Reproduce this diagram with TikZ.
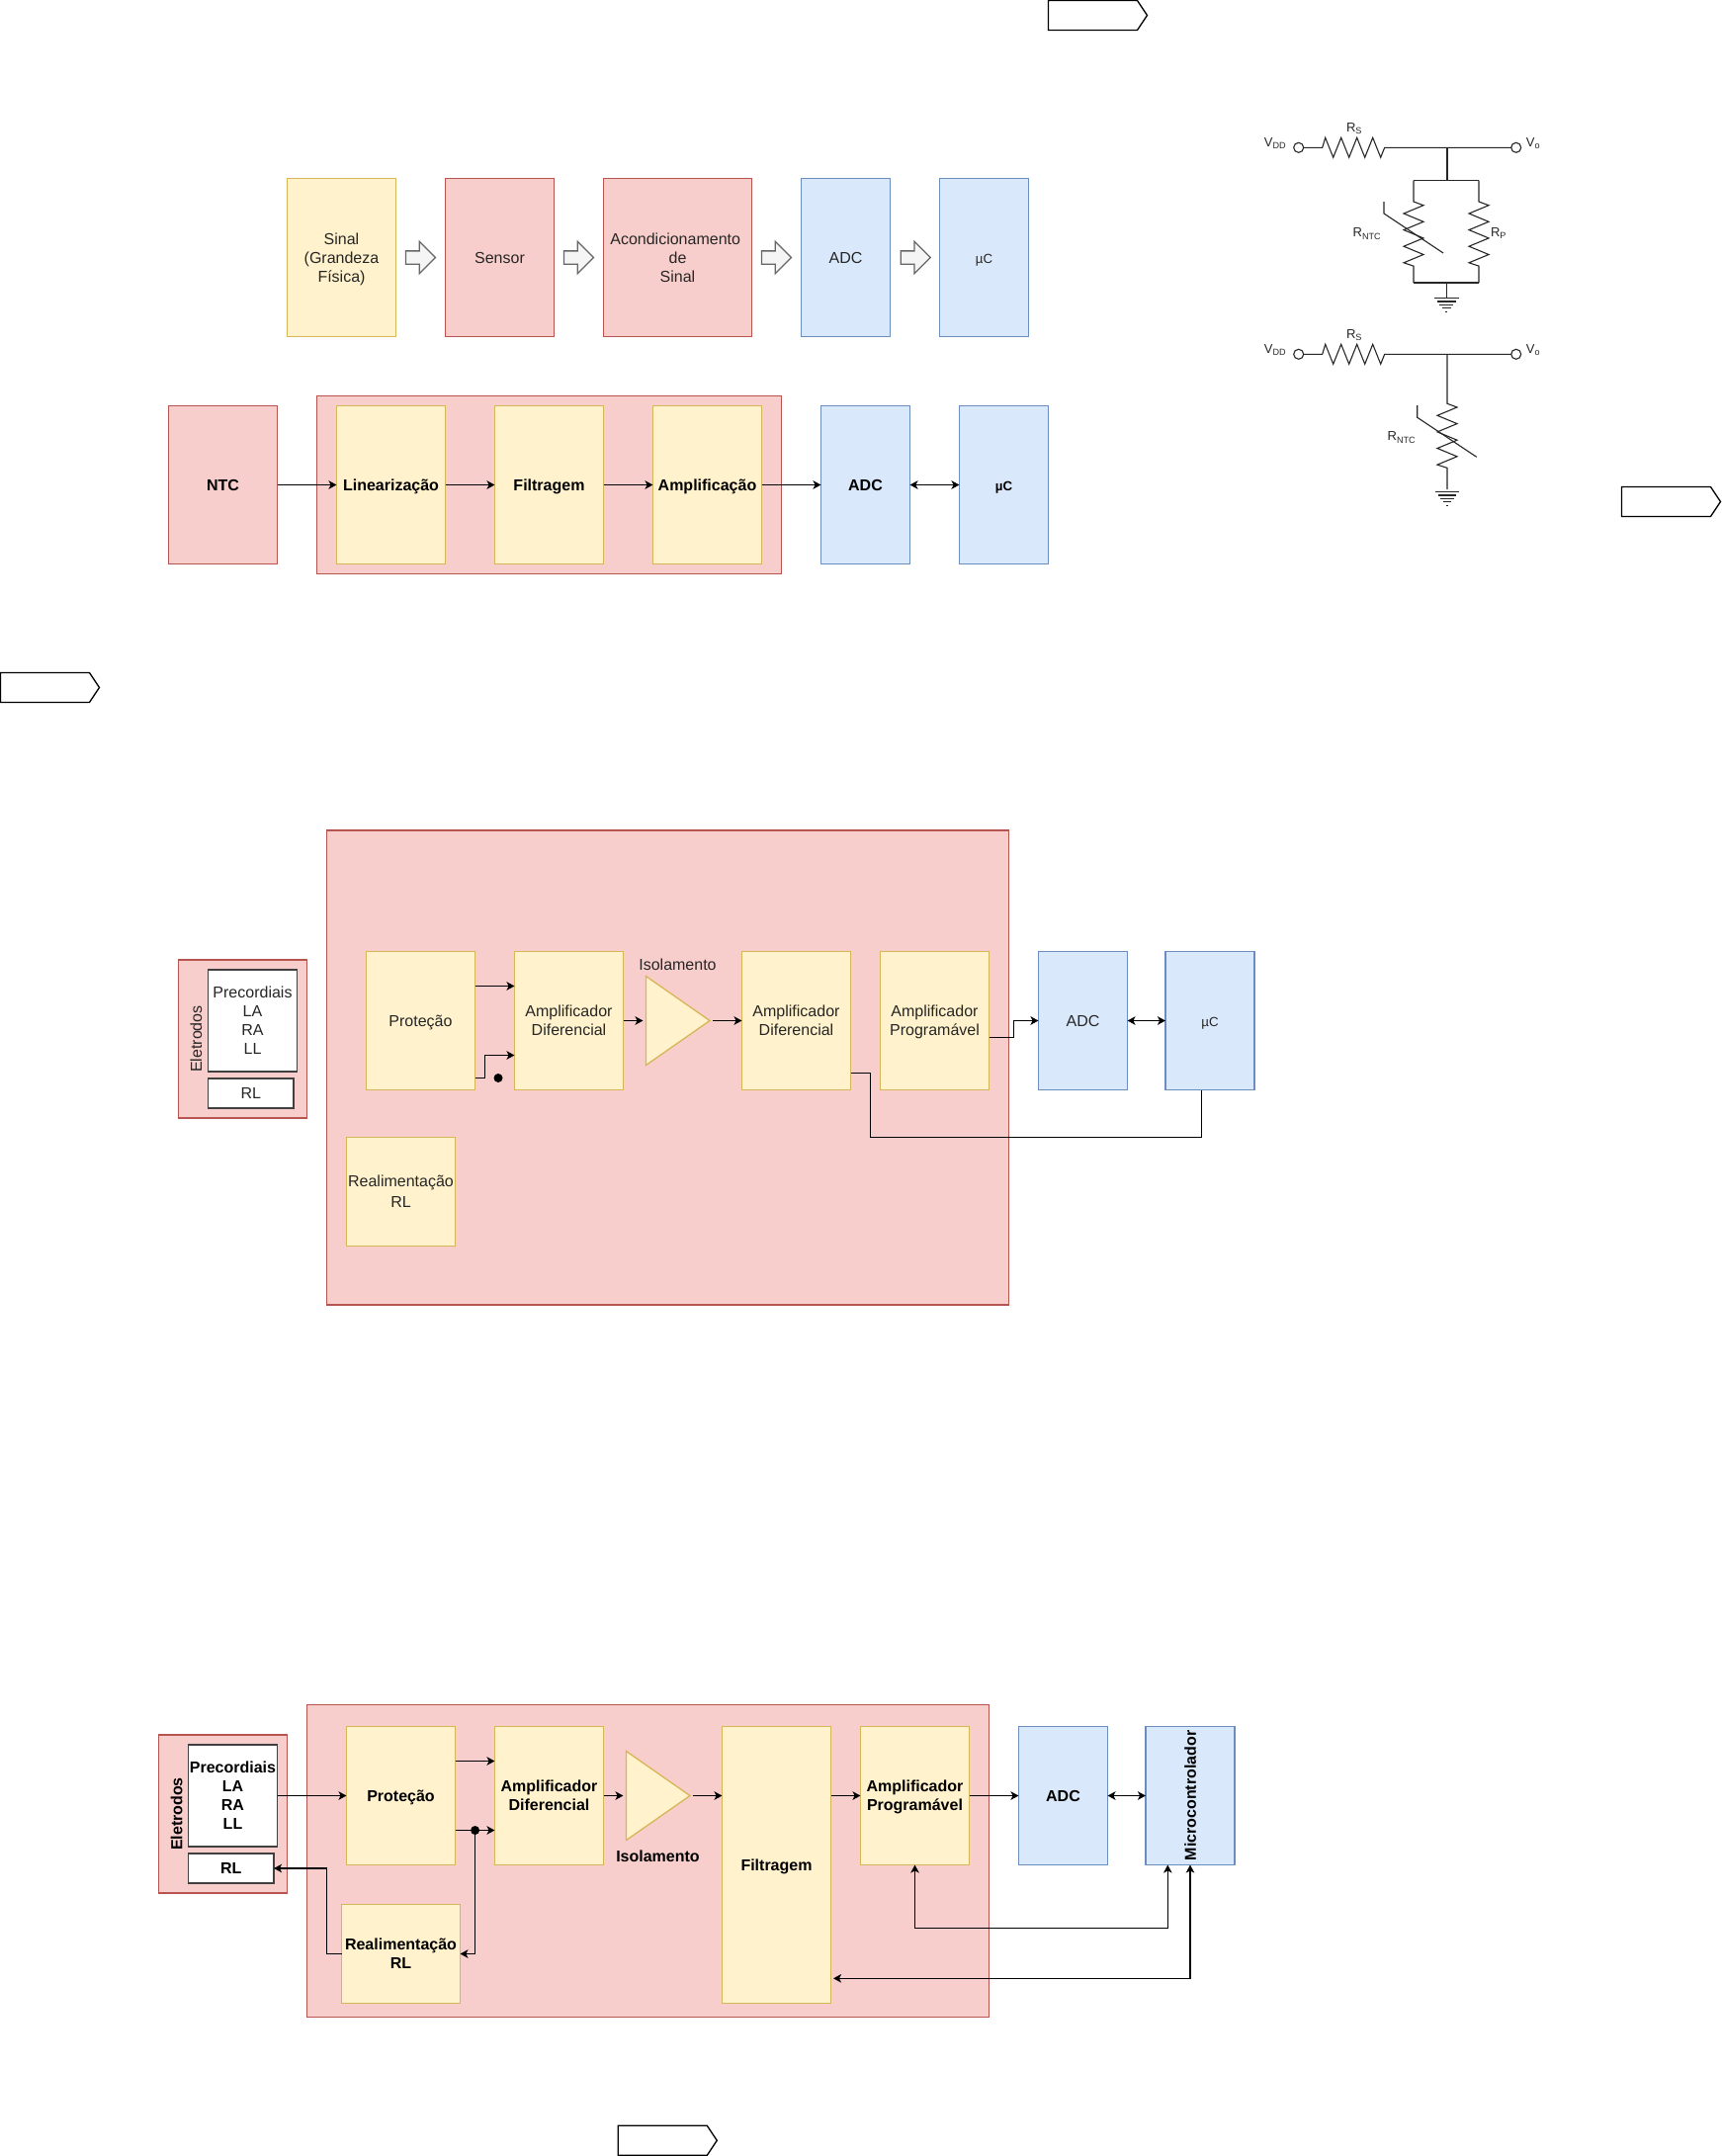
\documentclass[tikz,border=0pt]{standalone}
\usepackage{fontspec}
\setmainfont{Liberation Sans}
\usetikzlibrary{positioning,arrows.meta,shapes.geometric,shapes.arrows,shapes.symbols}
\newcommand{\topstrut}{\rule{0pt}{15pt}}

\begin{document}
\begin{tikzpicture}[
x=1pt, y=-1pt, node distance=50pt, line width=1.3pt,
>={Stealth[length=8pt,width=8.5pt,inset=2pt]},
every node/.style={inner sep=0pt, outer sep=0pt, align=center, text=black!85, font=\fontsize{16}{19}\selectfont},
textstrut/.style={execute at begin node={\rule[-3.6pt]{0pt}{19pt}}, execute at end node={\rule[-3.6pt]{0pt}{19pt}}},
boldtext/.style={textstrut, text=black, font=\fontsize{16}{19}\selectfont\bfseries},
smalltext/.style={font=\fontsize{13.3}{16}\selectfont},
blockbox/.style={rectangle, draw, textstrut, minimum width=110pt, minimum height=160pt},
ecgbox/.style={blockbox, minimum height=140pt},
yellowbox/.style={fill=yellowfill, draw=yellowline},
redbox/.style={rectangle, draw=redline, fill=redfill},
bluebox/.style={fill=bluefill, draw=blueline},
whitebox/.style={rectangle, textstrut, draw=black!75, fill=white},
isotri/.style={isosceles triangle, isosceles triangle stretches, fill=yellowfill, draw=yellowline, minimum width=90pt, minimum height=64.5pt},
flowarrow/.style={single arrow, draw=black!60, fill=black!4, minimum height=30pt, minimum width=31.3pt, inner ysep=6pt, single arrow head extend=9.6pt, single arrow head indent=0pt},
pagetag/.style={signal, signal to=east, signal pointer angle=112.6, draw=black, fill=white, minimum width=100pt, minimum height=30pt, anchor=west},
junction/.style={circle, fill=black, minimum size=9pt},
terminal/.style={circle, draw=black!85, fill=white, line width=1.1pt, minimum size=10pt},
circuittext/.style={font=\fontsize{13}{15}\selectfont},
wire/.style={draw=black!85, line width=1.1pt},
hzigzag/.style={insert path={-- ++(3,-10) -- ++(8,20) -- ++(8,-20) -- ++(8,20) -- ++(8,-20) -- ++(8,20) -- ++(8,-20) -- ++(8,20) -- ++(4,-10)}},
vzigzag/.style={insert path={-- ++(10,3.7) -- ++(-20,8.3) -- ++(20,8.3) -- ++(-20,8.3) -- ++(20,8.3) -- ++(-20,8.3) -- ++(20,8.3) -- ++(-20,8.3) -- ++(10,3.3)}},
ground/.pic={\foreach \w/\d in {12.3/0,9.3/3.7,7/7,4.3/10.5,1/14.5} \draw[wire] (-\w,\d) -- (\w,\d);}
]
\definecolor{yellowfill}{HTML}{FFF2CC}
\definecolor{yellowline}{HTML}{D6B656}
\definecolor{redfill}{HTML}{F8CECC}
\definecolor{redline}{HTML}{B85450}
\definecolor{bluefill}{HTML}{DAE8FC}
\definecolor{blueline}{HTML}{6C8EBF}
\useasboundingbox (0,0) rectangle (1741,2181);

\node[pagetag](tag_top) at (1060.5,15.5){};
\node[pagetag](tag_right) at (1640.5,507.5){};
\node[pagetag](tag_left) at (0.5,695.5){};
\node[pagetag](tag_bottom) at (625.3,2165.3){};

\node[blockbox,yellowbox,anchor=north west](sinal) at (290.5,180.5){\topstrut Sinal\\(Grandeza\\Física)};
\node[blockbox,redbox](sensor)[right=of sinal]{Sensor};
\node[blockbox,redbox,minimum width=150pt](acond)[right=of sensor]{\topstrut Acondicionamento\hspace*{4.6pt}\\de\\Sinal};
\node[blockbox,bluebox,minimum width=90pt](adc_flow)[right=of acond]{ADC};
\node[blockbox,bluebox,minimum width=90pt,smalltext](uc_flow)[right=of adc_flow]{µC};
\node[flowarrow](flow_1)[right=10pt of sinal]{};
\node[flowarrow](flow_2)[right=10pt of sensor]{};
\node[flowarrow](flow_3)[right=10pt of acond]{};
\node[flowarrow](flow_4)[right=10.8pt of adc_flow]{};

\node[redbox,anchor=north west,minimum width=470pt,minimum height=180pt](cond_bg) at (320.5,400.5){};
\node[blockbox,redbox,boldtext,anchor=north west](ntc) at (170.5,410.5){NTC};
\node[blockbox,yellowbox,boldtext](linear)[right=60pt of ntc]{Linearização};
\node[blockbox,yellowbox,boldtext](filtro)[right=of linear]{Filtragem};
\node[blockbox,yellowbox,boldtext](amplif)[right=of filtro]{Amplificação};
\node[blockbox,bluebox,boldtext,minimum width=90pt](adc_ntc)[right=60pt of amplif]{ADC};
\node[blockbox,bluebox,boldtext,minimum width=90pt,font=\fontsize{13.3}{16}\selectfont\bfseries](uc_ntc)[right=of adc_ntc]{µC};
\draw[->] (ntc) -- (linear);
\draw[->] (linear) -- (filtro);
\draw[->] (filtro) -- (amplif);
\draw[->] (amplif) -- (adc_ntc);
\draw[<->] (adc_ntc) -- (uc_ntc);

\foreach \y/\t in {149.3/a,358.3/b}{
\node[terminal](vdd_\t) at (1313.7,\y){};
\node[terminal](vo_\t) at (1533.7,\y){};
\draw[wire] (vdd_\t) -- ++(24,0) [hzigzag] -- (vo_\t);
\node[circuittext](vdd_label_\t) at (1290,\y-4.6){V\textsubscript{DD}};
\node[circuittext](vo_label_\t) at (1551,\y-4){V\textsubscript{o}};
\node[circuittext](rs_label_\t) at (1370,\y-19.6){R\textsubscript{S}};
}

\coordinate (top_a) at (1464,149.3);
\coordinate (split_a) at (1464,182.7);
\coordinate (split_ntc) at (1430,182.7);
\coordinate (split_rp) at (1496,182.7);
\coordinate (merge_ntc) at (1430,286);
\coordinate (merge_rp) at (1496,286);
\coordinate (merge_a) at (1463.3,286);
\draw[wire] (top_a) -- (split_a);
\draw[wire] (split_ntc) -- (split_rp);
\draw[wire] (split_ntc) -- ++(0,21.3) [vzigzag] -- (merge_ntc);
\draw[wire] (split_rp) -- ++(0,21.3) [vzigzag] -- (merge_rp);
\draw[wire] (merge_ntc) -- (merge_rp);
\draw[wire] (merge_a) -- ++(0,15.3);
\draw[wire] (1400,204) -- ++(0,12) -- ++(60,40);
\pic at (1463.3,301.3) {ground};
\node[circuittext](rntc_label_a) at (1383,236.5){R\textsubscript{NTC}};
\node[circuittext](rp_label_a) at (1516,236){R\textsubscript{P}};

\coordinate (top_b) at (1464,358.3);
\draw[wire] (top_b) -- (1464,408.3) [vzigzag] -- ++(0,21.7);
\draw[wire] (1433.7,410) -- ++(0,12.3) -- ++(60,40);
\pic at (1464,497.3) {ground};
\node[circuittext](rntc_label_b) at (1418,442.5){R\textsubscript{NTC}};

\node[redbox,anchor=north west,minimum width=690pt,minimum height=480pt](ecg_bg_a) at (330.5,840){};
\node[redbox,anchor=north west,minimum width=130pt,minimum height=160pt](elet_a) at (180.5,971){};
\node[rotate=90](elet_label_a) at ([xshift=18pt]elet_a.west){Eletrodos};
\node[whitebox,anchor=north west,minimum width=90pt,minimum height=103pt](prec_a) at (210.5,981){\topstrut Precordiais\\LA\\RA\\LL};
\node[whitebox,anchor=north west,minimum width=86.5pt,minimum height=30pt](rl_a) at (210.5,1091){RL};
\node[ecgbox,yellowbox,anchor=north west](prot_a) at (370.5,962.5){Proteção};
\node[ecgbox,yellowbox](amp_dif_a)[right=40pt of prot_a]{\topstrut Amplificador\\Diferencial};
\node[isotri](tri_a)[right=23pt of amp_dif_a]{};
\node(iso_label_a) at (685.5,975.3){Isolamento};
\node[ecgbox,yellowbox](amp_dif2_a)[right=120pt of amp_dif_a]{\topstrut Amplificador\\Diferencial};
\node[ecgbox,yellowbox](amp_prog_a)[right=30pt of amp_dif2_a]{\topstrut Amplificador\\Programável};
\node[ecgbox,bluebox,minimum width=90pt](adc_a)[right=of amp_prog_a]{ADC};
\node[ecgbox,bluebox,minimum width=90pt,smalltext](uc_a)[right=38.5pt of adc_a]{µC};
\node[blockbox,yellowbox,minimum height=110pt,anchor=north west](real_a) at (350.5,1150.5){\topstrut Realimentação\\[2pt]RL};
\node[junction](dot_a) at (504,1090.5){};
\draw[->] ([yshift=35pt]prot_a.east) -- ([yshift=35pt]amp_dif_a.west);
\draw[->] ([yshift=-58pt]prot_a.east) -- ++(10,0) |- ([yshift=-35pt]amp_dif_a.west);
\draw[->,shorten >=3pt] (amp_dif_a) -- (tri_a);
\draw[->,shorten <=3pt] (tri_a.apex) -- (amp_dif2_a);
\draw[->] ([yshift=-17.2pt]amp_prog_a.east) -- ++(25,0) |- (adc_a);
\draw[<->] (adc_a) -- (uc_a);
\draw ([yshift=-53.2pt]amp_dif2_a.east) -- ++(19.8,0) |- ([xshift=-8.3pt,yshift=-47.8pt]uc_a.south) -- ([xshift=-8.3pt]uc_a.south);

\node[redbox,anchor=north west,minimum width=690pt,minimum height=316pt](ecg_bg_b) at (310.5,1724.5){};
\node[redbox,anchor=north west,minimum width=130pt,minimum height=160pt](elet_b) at (160.5,1755){};
\node[rotate=90,boldtext](elet_label_b) at ([xshift=18pt]elet_b.west){Eletrodos};
\node[whitebox,boldtext,anchor=north west,minimum width=90pt,minimum height=103pt](prec_b) at (190.5,1765){\topstrut Precordiais\\LA\\RA\\LL};
\node[whitebox,boldtext,anchor=north west,minimum width=86.5pt,minimum height=30pt](rl_b) at (190.5,1875){RL};
\node[ecgbox,yellowbox,boldtext,anchor=north west](prot_b) at (350.5,1746.5){Proteção};
\node[ecgbox,yellowbox,boldtext](amp_dif_b)[right=40pt of prot_b]{\topstrut Amplificador\\Diferencial};
\node[isotri](tri_b)[right=23pt of amp_dif_b]{};
\node[boldtext](iso_label_b) at (665.5,1877.3){Isolamento};
\node[blockbox,yellowbox,boldtext,minimum height=280pt,anchor=north west](filt_b) at (730.5,1746.5){Filtragem};
\node[ecgbox,yellowbox,boldtext](amp_prog_b) at (925.5,1816.5){\topstrut Amplificador\\Programável};
\node[ecgbox,bluebox,boldtext,minimum width=90pt](adc_b)[right=of amp_prog_b]{ADC};
\node[ecgbox,bluebox,minimum width=90pt](micro)[right=38.5pt of adc_b]{};
\node[rotate=90,boldtext](micro_label) at (micro){Microcontrolador};
\node[blockbox,yellowbox,boldtext,minimum width=120pt,minimum height=100pt,anchor=north west](real_b) at (345.5,1926.5){\topstrut Realimentação\\RL};
\node[junction](dot_b)[right=15.6pt of prot_b.east,yshift=-35pt]{};
\draw[->] (prec_b) -- (prot_b);
\draw[->] ([yshift=35pt]prot_b.east) -- ([yshift=35pt]amp_dif_b.west);
\draw[->] ([yshift=-35pt]prot_b.east) -- ([yshift=-35pt]amp_dif_b.west);
\draw[->] (dot_b) |- (real_b.east);
\draw[->] (real_b.west) -- ++(-15,0) |- (rl_b.east);
\draw[->,shorten >=3pt] (amp_dif_b) -- (tri_b);
\draw[->,shorten <=3pt] (tri_b.apex) -- ([yshift=70pt]filt_b.east -| filt_b.west);
\draw[->] ([yshift=70pt]filt_b.east) -- (amp_prog_b);
\draw[->] (amp_prog_b) -- (adc_b);
\draw[<->] (adc_b) -- (micro);
\draw[<->] (amp_prog_b.south) -- ++(0,63.8) -| ([xshift=-22.7pt]micro.south);
\draw[<->] (micro.south) |- ([xshift=2.5pt,yshift=-114.8pt]filt_b.east);
\end{tikzpicture}
\end{document}
